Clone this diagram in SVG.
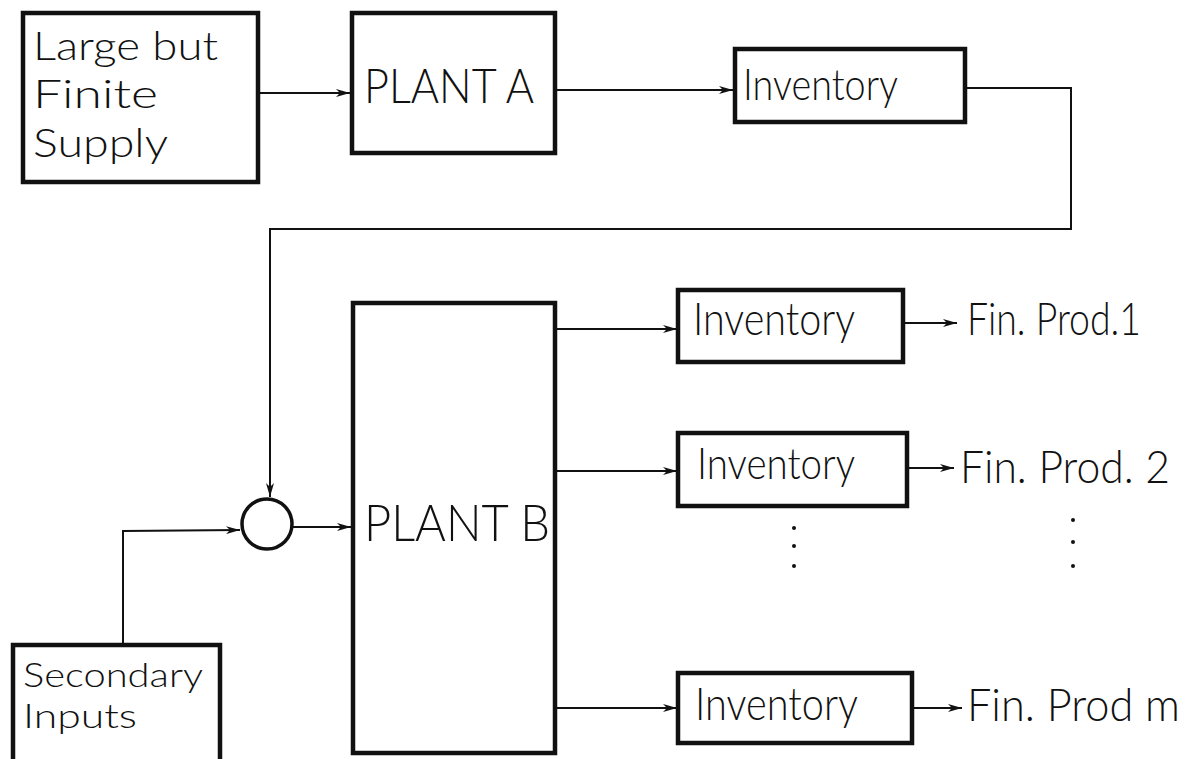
<svg xmlns="http://www.w3.org/2000/svg" width="1196" height="759" viewBox="0 0 1196 759">
<style>
.box{fill:#fff;stroke:#111;stroke-width:4.5}
.ln{fill:none;stroke:#111;stroke-width:2}
.t{font-family:Lato,"Liberation Sans",Arial,sans-serif;fill:#111;font-weight:300}
.dot{fill:#111}
</style>
<defs>
<marker id="ah" viewBox="0 0 14 8" refX="14" refY="4" markerWidth="14" markerHeight="8" markerUnits="userSpaceOnUse" orient="auto">
<path d="M0,0 L14,4 L0,8 L4,4 Z" fill="#111"/>
</marker>
</defs>
<rect width="1196" height="759" fill="#fff"/>
<g id="connectors">
<line class="ln" x1="258" y1="93" x2="350" y2="93" marker-end="url(#ah)"/>
<line class="ln" x1="555" y1="90" x2="733" y2="90" marker-end="url(#ah)"/>
<polyline class="ln" points="965,88 1071,88 1071,229 270,229 270,497" marker-end="url(#ah)"/>
<polyline class="ln" points="123,645 123,531 240,530" marker-end="url(#ah)"/>
<line class="ln" x1="293" y1="527" x2="351" y2="527" marker-end="url(#ah)"/>
<line class="ln" x1="555" y1="329" x2="677" y2="329" marker-end="url(#ah)"/>
<line class="ln" x1="555" y1="471" x2="677" y2="471" marker-end="url(#ah)"/>
<line class="ln" x1="555" y1="708" x2="677" y2="708" marker-end="url(#ah)"/>
<line class="ln" x1="905" y1="323" x2="957" y2="323" marker-end="url(#ah)"/>
<line class="ln" x1="909" y1="468" x2="954" y2="468" marker-end="url(#ah)"/>
<line class="ln" x1="914" y1="708" x2="962" y2="708" marker-end="url(#ah)"/>
</g>
<g id="supply">
<rect class="box" x="23" y="13" width="235" height="169"/>
<text class="t" x="33" y="60" font-size="40" textLength="185" lengthAdjust="spacingAndGlyphs">Large but</text>
<text class="t" x="33" y="108" font-size="40" textLength="125" lengthAdjust="spacingAndGlyphs">Finite</text>
<text class="t" x="33" y="157" font-size="40" textLength="135" lengthAdjust="spacingAndGlyphs">Supply</text>
</g>
<g id="plantA">
<rect class="box" x="352" y="13" width="203" height="140"/>
<text class="t" x="364" y="103" font-size="48" textLength="170" lengthAdjust="spacingAndGlyphs">PLANT A</text>
</g>
<g id="invA">
<rect class="box" x="735" y="49" width="230" height="73"/>
<text class="t" x="743" y="100" font-size="44" textLength="155" lengthAdjust="spacingAndGlyphs">Inventory</text>
</g>
<g id="junction">
<circle cx="267" cy="524" r="25" fill="#fff" stroke="#111" stroke-width="3.5"/>
</g>
<g id="secondary">
<rect class="box" x="13" y="645" width="207" height="130"/>
<text class="t" x="23" y="687" font-size="33" textLength="180" lengthAdjust="spacingAndGlyphs">Secondary</text>
<text class="t" x="23" y="728" font-size="33" textLength="114" lengthAdjust="spacingAndGlyphs">Inputs</text>
</g>
<g id="plantB">
<rect class="box" x="353" y="303" width="202" height="450"/>
<text class="t" x="364" y="541" font-size="52" textLength="186" lengthAdjust="spacingAndGlyphs">PLANT B</text>
</g>
<g id="inv1">
<rect class="box" x="678" y="290" width="225" height="72"/>
<text class="t" x="693" y="335" font-size="45" textLength="162" lengthAdjust="spacingAndGlyphs">Inventory</text>
<text class="t" x="967" y="335" font-size="45" textLength="174" lengthAdjust="spacingAndGlyphs">Fin. Prod.1</text>
</g>
<g id="inv2">
<rect class="box" x="678" y="433" width="229" height="73"/>
<text class="t" x="697" y="479" font-size="44" textLength="158" lengthAdjust="spacingAndGlyphs">Inventory</text>
<text class="t" x="960" y="483" font-size="46" textLength="210" lengthAdjust="spacingAndGlyphs">Fin. Prod. 2</text>
</g>
<g id="invm">
<rect class="box" x="678" y="673" width="234" height="70"/>
<text class="t" x="695" y="720" font-size="45" textLength="163" lengthAdjust="spacingAndGlyphs">Inventory</text>
<text class="t" x="967" y="721" font-size="46" textLength="213" lengthAdjust="spacingAndGlyphs">Fin. Prod  m</text>
</g>
<g id="ellipsis">
<circle class="dot" cx="794" cy="528" r="2"/>
<circle class="dot" cx="794" cy="546" r="2"/>
<circle class="dot" cx="794" cy="566" r="2"/>
<circle class="dot" cx="1073" cy="520" r="2"/>
<circle class="dot" cx="1073" cy="542" r="2"/>
<circle class="dot" cx="1073" cy="566" r="2"/>
</g>
</svg>
